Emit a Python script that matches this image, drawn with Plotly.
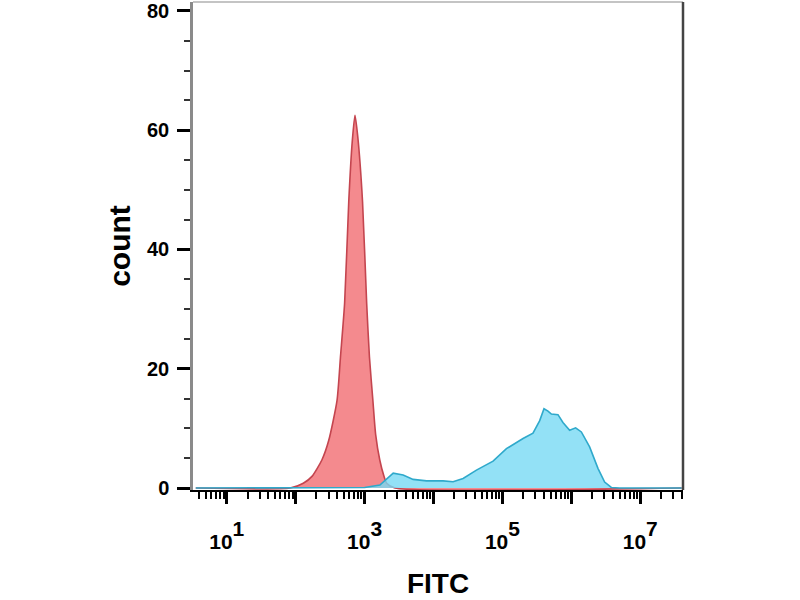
import numpy as np
import plotly.graph_objects as go

# log10(FITC) positions and counts
red_log_fitc = [0.55, 1.92, 2.11, 2.24, 2.38, 2.48, 2.60, 2.65, 2.71, 2.77, 2.82, 2.86,
                2.90, 2.97, 3.03, 3.07, 3.12, 3.16, 3.22, 3.28, 3.32, 3.44, 7.6]
red_count = [0, 0, 0.8, 2.0, 4.7, 8.0, 14.7, 22, 31, 48, 58, 62.5,
             59, 48, 31, 22, 14.7, 9, 4.7, 2.0, 0.8, 0, 0]

blue_log_fitc = [0.55, 2.0, 3.0, 3.222, 3.415, 3.559, 3.704, 3.899, 4.139, 4.284, 4.429,
                 4.623, 4.864, 5.058, 5.203, 5.299, 5.443, 5.541, 5.603, 5.661, 5.710,
                 5.806, 5.878, 5.975, 6.062, 6.145, 6.265, 6.386, 6.483, 6.580, 6.7, 7.6]
blue_count = [0, 0, 0.1, 0.5, 2.5, 2.2, 1.45, 1.2, 1.2, 1.05, 1.6,
              3.0, 4.5, 6.6, 7.7, 8.3, 9.2, 11.3, 13.3, 12.9, 12.4,
              12.3, 11.0, 9.7, 10.1, 9.4, 6.9, 3.3, 1.0, 0.1, 0, 0]

x_tick_exponents = [1, 2, 3, 4, 5, 6, 7]
x_tick_labels = ["<span style='font-size:21px'>10</span><sup>1</sup>", "",
                 "<span style='font-size:21px'>10</span><sup>3</sup>", "",
                 "<span style='font-size:21px'>10</span><sup>5</sup>", "",
                 "<span style='font-size:21px'>10</span><sup>7</sup>"]
y_tick_values = [0, 20, 40, 60, 80]

FONT = "Liberation Sans, Arial, sans-serif"

fig = go.Figure()
fig.add_trace(go.Scatter(
    x=np.power(10.0, red_log_fitc), y=red_count, mode="lines",
    line=dict(color="#C4454F", width=1.6, shape="spline", smoothing=0.6),
    fill="tozeroy", fillcolor="rgba(243,128,132,0.92)", showlegend=False))
fig.add_trace(go.Scatter(
    x=np.power(10.0, blue_log_fitc), y=blue_count, mode="lines",
    line=dict(color="#2FA9CB", width=1.6),
    fill="tozeroy", fillcolor="rgba(120,218,244,0.80)", showlegend=False))

fig.update_layout(
    width=800, height=600,
    margin=dict(l=193, r=117, t=2, b=110, autoexpand=False),
    paper_bgcolor="white", plot_bgcolor="white",
    font=dict(family=FONT, color="black"),
)
fig.update_xaxes(
    type="log", range=[0.51, 7.62], automargin=False,
    tickvals=[10.0 ** e for e in x_tick_exponents], ticktext=x_tick_labels,
    ticks="outside", ticklen=12, tickwidth=3, tickcolor="black",
    tickfont=dict(size=30, family=FONT, weight="bold"),
    ticklabelstandoff=9, ticklabeloverflow="allow",
    minor=dict(ticks="outside", ticklen=7, tickwidth=1.5, tickcolor="black", dtick="D1", showgrid=False),
    showgrid=False, zeroline=False,
    showline=True, linecolor="black", linewidth=2, mirror=False,
    title=dict(text="<b>FITC</b>", font=dict(size=28, family=FONT), standoff=21),
)
fig.update_yaxes(
    range=[-0.33, 81.5], automargin=False,
    tickvals=y_tick_values,
    ticks="outside", ticklen=13, tickwidth=2.5, tickcolor="black",
    tickfont=dict(size=20, family=FONT, weight="bold"),
    ticklabelstandoff=4, ticklabeloverflow="allow",
    minor=dict(ticks="outside", ticklen=6, tickwidth=1.5, tickcolor="#333", dtick=5, showgrid=False),
    showgrid=False, zeroline=False,
    showline=True, linecolor="#8a8a8a", linewidth=2.5, mirror=False,
    title=dict(text="<b>count</b>", font=dict(size=30, family=FONT), standoff=8),
)
# frame: top and right spines
fig.add_shape(type="line", xref="paper", yref="paper", x0=0, x1=1, y0=1, y1=1,
              line=dict(color="#b0b0b0", width=1.5))
fig.add_shape(type="line", xref="paper", yref="paper", x0=1, x1=1, y0=0, y1=1,
              line=dict(color="#444", width=2.5))

fig.write_html("out.html", config={"displayModeBar": False},
               post_script="document.body.style.margin='0px';")
